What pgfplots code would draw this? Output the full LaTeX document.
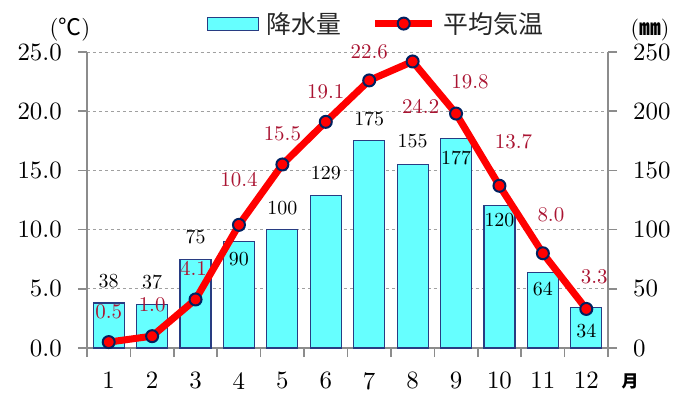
\documentclass[border=0pt]{standalone}
\usepackage{pgfplots}
\pgfplotsset{compat=1.18}
\usepackage{fontspec}
\setmainfont{lmroman10-regular}[Extension=.otf, BoldFont=lmroman10-bold]
\newfontfamily\cjk{Noto Sans CJK JP}
\definecolor{barfill}{RGB}{102,255,255}
\definecolor{baredge}{RGB}{40,60,130}
\definecolor{tline}{RGB}{255,0,0}
\definecolor{tmark}{RGB}{0,32,96}
\definecolor{tlab}{RGB}{170,20,50}
\definecolor{axgray}{RGB}{140,140,140}
\definecolor{gridgray}{RGB}{160,160,160}

\pgfplotsset{
  chartbase/.style={
    scale only axis, width=521bp, height=296bp,
    at={(0bp,0bp)}, anchor=south west,
    xmin=0.5, xmax=12.5, clip=false,
    axis line style={axgray, line width=1.6bp},
    tick style={axgray, line width=1.6bp},
    tick align=outside, major tick length=9bp,
    /pgf/number format/assume math mode=true,
    ticklabel style={font=\fontsize{25}{30}\selectfont, inner sep=0bp, text=black},
  },
}
\tikzset{
  barlab/.style={font=\fontsize{20}{24}\selectfont, inner sep=0bp, anchor=center},
  templab/.style={font=\fontsize{21}{25}\selectfont, inner sep=0bp, anchor=center, text=tlab},
}

\begin{document}
\begin{tikzpicture}
\useasboundingbox (-87bp,-46bp) rectangle (592bp,348bp);

% precipitation, right axis (mm)
\begin{axis}[chartbase,
  axis y line*=right, axis x line*=bottom,
  ymin=0, ymax=250, ytick={0,50,100,150,200,250},
  ymajorgrids, grid style={gridgray, dashed, line width=0.9bp},
  xtick={0.5,1.5,2.5,3.5,4.5,5.5,6.5,7.5,8.5,9.5,10.5,11.5,12.5},
  xticklabels={1,2,3,4,5,6,7,8,9,10,11,12,{}},
  xticklabel style={anchor=north, xshift=21.7bp, yshift=-15bp},
  yticklabel style={anchor=west, xshift=16bp},
]
\addplot[ybar, bar width=31bp, fill=barfill, draw=baredge, line width=1.1bp]
  coordinates {(1,38) (2,37) (3,75) (4,90) (5,100) (6,129)
               (7,175) (8,155) (9,177) (10,120) (11,64) (12,34)};
\node[barlab, yshift=22bp]  at (axis cs:1,38)   {38};
\node[barlab, yshift=22bp]  at (axis cs:2,37)   {37};
\node[barlab, yshift=22bp]  at (axis cs:3,75)   {75};
\node[barlab, yshift=-18bp] at (axis cs:4,90)   {90};
\node[barlab, yshift=22bp]  at (axis cs:5,100)  {100};
\node[barlab, yshift=22bp]  at (axis cs:6,129)  {129};
\node[barlab, yshift=22bp]  at (axis cs:7,175)  {175};
\node[barlab, yshift=23bp]  at (axis cs:8,155)  {155};
\node[barlab, yshift=-20bp] at (axis cs:9,177)  {177};
\node[barlab, yshift=-14bp] at (axis cs:10,120) {120};
\node[barlab, yshift=-17bp] at (axis cs:11,64)  {64};
\node[barlab, yshift=-23bp] at (axis cs:12,34)  {34};
\end{axis}

% mean temperature, left axis (degC)
\begin{axis}[chartbase,
  axis y line*=left, axis x line=none,
  ymin=0, ymax=25, ytick={0,5,10,15,20,25},
  yticklabel style={anchor=east, xshift=-16bp,
    /pgf/number format/fixed, /pgf/number format/fixed zerofill,
    /pgf/number format/precision=1},
  legend columns=2,
  legend style={at={(0.553,1.096)}, anchor=center, draw=none, fill=none,
    font=\cjk\fontsize{25}{28}\selectfont, text=black!85,
    inner sep=0bp, nodes={inner sep=0bp, anchor=west},
    /tikz/every odd column/.append style={column sep=8bp},
    /tikz/every even column/.append style={column sep=30bp}},
]
\addlegendimage{legend image code/.code={
  \draw[fill=barfill, draw=baredge, line width=1.1bp] (0bp,-6.5bp) rectangle (51bp,6.5bp);}}
\addlegendentry{降水量}
\addplot[tline, line width=7bp, line join=round, mark=*, mark size=6bp,
  mark options={fill=tline, draw=tmark, line width=2bp},
  legend image code/.code={
    \draw[tline, line width=7bp] (0bp,0bp) -- (57bp,0bp);
    \draw[fill=tline, draw=tmark, line width=2bp] (28.5bp,0bp) circle (6bp);}]
  coordinates {(1,0.5) (2,1.0) (3,4.1) (4,10.4) (5,15.5) (6,19.1)
               (7,22.6) (8,24.2) (9,19.8) (10,13.7) (11,8.0) (12,3.3)};
\addlegendentry{平均気温}
\node[templab, yshift=30bp]            at (axis cs:1,0.5)  {0.5};
\node[templab, yshift=31bp]            at (axis cs:2,1.0)  {1.0};
\node[templab, xshift=-2bp, yshift=31bp] at (axis cs:3,4.1)  {4.1};
\node[templab, yshift=45bp]            at (axis cs:4,10.4) {10.4};
\node[templab, yshift=31bp]            at (axis cs:5,15.5) {15.5};
\node[templab, yshift=30bp]            at (axis cs:6,19.1) {19.1};
\node[templab, yshift=29bp]            at (axis cs:7,22.6) {22.6};
\node[templab, xshift=8bp, yshift=-45bp] at (axis cs:8,24.2) {24.2};
\node[templab, xshift=14bp, yshift=32bp] at (axis cs:9,19.8) {19.8};
\node[templab, xshift=14bp, yshift=44bp] at (axis cs:10,13.7) {13.7};
\node[templab, xshift=8bp, yshift=39bp]  at (axis cs:11,8.0)  {8.0};
\node[templab, xshift=8bp, yshift=32bp]  at (axis cs:12,3.3)  {3.3};
\end{axis}

% unit labels
\node[font=\fontsize{23}{26}\selectfont, inner sep=0bp] at (-17bp,318bp) {({\cjk ℃})};
\node[font=\fontsize{22}{26}\selectfont, inner sep=0bp] at (563bp,318bp) {({\cjk\bfseries ㎜})};
\node[font=\cjk\bfseries\fontsize{17}{20}\selectfont, inner sep=0bp] at (543bp,-33bp) {月};
\end{tikzpicture}
\end{document}
